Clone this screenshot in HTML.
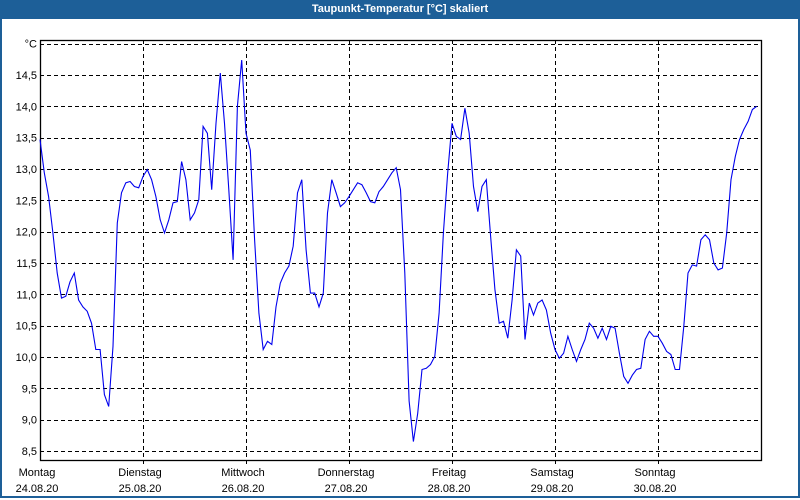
<!DOCTYPE html>
<html><head><meta charset="utf-8"><style>
body{margin:0;background:#fff;}
#win{position:relative;width:796px;height:496px;border:2px solid #1d5f98;border-top:none;background:#fff;overflow:hidden}
#title{height:19px;background:#1d5f98;color:#fff;font:bold 11px "Liberation Sans",sans-serif;text-align:center;line-height:18px}
svg text{font-family:"Liberation Sans",sans-serif;font-size:11px;fill:#000}
</style></head><body>
<div id="win">
<div id="title">Taupunkt-Temperatur [°C] skaliert</div>
<svg id="chart" width="800" height="500" style="position:absolute;left:-2px;top:0"></svg>
</div>
<script>
const dayNames=["Montag","Dienstag","Mittwoch","Donnerstag","Freitag","Samstag","Sonntag"];
const dayDates=["24.08.20","25.08.20","26.08.20","27.08.20","28.08.20","29.08.20","30.08.20"];
const yTicks=[8.5,9.0,9.5,10.0,10.5,11.0,11.5,12.0,12.5,13.0,13.5,14.0,14.5];
const yTickLabels=["8,5","9,0","9,5","10,0","10,5","11,0","11,5","12,0","12,5","13,0","13,5","14,0","14,5"];
const dewpoint=[13.47,12.94,12.56,11.98,11.34,10.94,10.97,11.2,11.34,10.91,10.8,10.73,10.54,10.12,10.12,9.4,9.21,10.17,12.14,12.62,12.78,12.8,12.72,12.7,
12.88,12.99,12.83,12.56,12.19,11.98,12.19,12.46,12.48,13.12,12.83,12.19,12.3,12.51,13.68,13.57,12.67,13.73,14.53,13.73,12.67,11.55,14.0,14.74,
13.57,13.3,11.87,10.7,10.12,10.25,10.2,10.8,11.18,11.34,11.45,11.77,12.62,12.83,11.71,11.02,11.02,10.8,11.02,12.3,12.83,12.62,12.4,12.46,
12.56,12.67,12.78,12.75,12.62,12.48,12.46,12.64,12.72,12.83,12.94,13.02,12.67,11.34,9.3,8.65,9.1,9.8,9.82,9.88,10.01,10.7,11.98,12.94,
13.73,13.52,13.47,13.97,13.57,12.72,12.32,12.72,12.83,11.93,11.08,10.54,10.57,10.3,10.91,11.71,11.61,10.28,10.86,10.67,10.86,10.91,10.75,10.38,
10.12,9.98,10.06,10.33,10.12,9.93,10.12,10.28,10.54,10.46,10.3,10.46,10.28,10.49,10.46,10.06,9.69,9.58,9.71,9.8,9.82,10.28,10.41,10.33,
10.33,10.22,10.09,10.04,9.8,9.8,10.49,11.34,11.47,11.45,11.87,11.95,11.87,11.5,11.39,11.42,11.98,12.83,13.2,13.47,13.63,13.76,13.95,14.0];
const NS="http://www.w3.org/2000/svg";
const svg=document.getElementById('chart');
const L=40,R=761,T=40,B=460,dayW=103;
const xOf=h=>L+h*dayW/24;
const yOf=v=>75+(14.5-v)*(376/6);
function mk(tag,attrs,txt){const e=document.createElementNS(NS,tag);for(const k in attrs)e.setAttribute(k,attrs[k]);if(txt!=null)e.textContent=txt;svg.appendChild(e);return e;}
[...yTicks,15.0].forEach((v,i)=>{
 const g=mk('line',{x1:L,x2:R,y1:Math.round(yOf(v))+.5,y2:Math.round(yOf(v))+.5,stroke:'#000','stroke-dasharray':'4,3','stroke-width':1});
 
 
});
yTicks.forEach((v,i)=>{
 const t=mk('text',{x:37,y:yOf(v)+4,'text-anchor':'end'},yTickLabels[i]);
 
 
});
const u=mk('text',{x:37,y:yOf(15)+4,'text-anchor':'end'},'°C');


dayNames.forEach((n,i)=>{
 const x=L+i*dayW;
 if(i>0){const g=mk('line',{x1:x+.5,x2:x+.5,y1:T,y2:B+5,stroke:'#000','stroke-dasharray':'4,3'});
 
 }
 const t=mk('text',{x:x-3,y:476,'text-anchor':'middle'},n);
 
 
 const d=mk('text',{x:x-3,y:492,'text-anchor':'middle'},dayDates[i]);
 
 
});
const f=mk('rect',{x:L+.5,y:T+.5,width:R-L,height:B-T,fill:'none',stroke:'#000','stroke-width':1.3});


const p=mk('polyline',{points:dewpoint.map((v,i)=>xOf(i).toFixed(1)+','+yOf(v).toFixed(1)).join(' '),fill:'none',stroke:'#0000ee','stroke-width':1.1});


</script>
</body></html>
